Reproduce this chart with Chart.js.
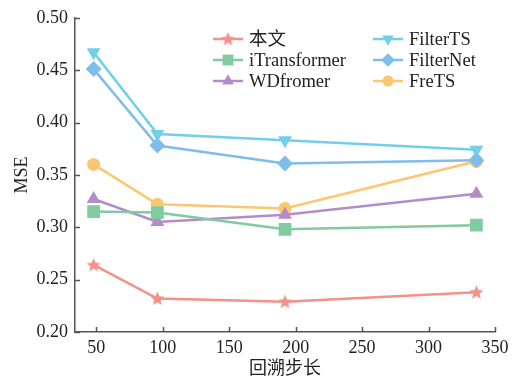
<!DOCTYPE html>
<html>
<head>
<meta charset="utf-8">
<script src="https://cdn.jsdelivr.net/npm/chart.js@4"></script>
<style>
  html, body { margin: 0; padding: 0; background: #fff; }
  #wrap { width: 523px; height: 381px; position: relative; }
</style>
</head>
<body>
<div id="wrap"><canvas id="chart"></canvas></div>
<script>
// look-back lengths and MSE per model
var lookback = [48, 96, 192, 336];
var ours = [0.264, 0.232, 0.229, 0.238];
var itransformer = [0.315, 0.314, 0.298, 0.302];
var wdfromer = [0.327, 0.305, 0.312, 0.332];
var filterts = [0.467, 0.389, 0.383, 0.374];
var filternet = [0.451, 0.378, 0.361, 0.364];
var frets = [0.360, 0.322, 0.318, 0.363];

var xTicks = [50, 100, 150, 200, 250, 300, 350];
var yTicks = [0.20, 0.25, 0.30, 0.35, 0.40, 0.45, 0.50];

var serif = "'Liberation Serif', 'Noto Sans CJK SC', serif";
var axisColor = "#555";
var textColor = "#222";

function makeStar(color, size) {
  var c = document.createElement("canvas");
  c.width = size; c.height = size;
  var g = c.getContext("2d");
  g.fillStyle = color;
  g.beginPath();
  for (var i = 0; i < 10; i++) {
    var r = i % 2 ? size * 0.22 : size / 2;
    var a = -Math.PI / 2 + i * Math.PI / 5;
    var px = size / 2 + r * Math.cos(a);
    var py = size / 2 + 0.5 + r * Math.sin(a);
    if (i === 0) g.moveTo(px, py); else g.lineTo(px, py);
  }
  g.closePath();
  g.fill();
  return c;
}

function pts(ys) {
  return lookback.map(function(x, i) { return {x: x, y: ys[i]}; });
}

function series(label, ys, color, style, radius, rotation) {
  return {
    label: label,
    data: pts(ys),
    borderColor: color,
    backgroundColor: color,
    pointBackgroundColor: color,
    pointBorderColor: color,
    borderWidth: 2.5,
    pointStyle: style,
    pointRadius: radius,
    pointHoverRadius: radius,
    pointRotation: rotation || 0,
    pointBorderWidth: 0,
    tension: 0
  };
}

var datasets = [
  series("本文", ours, "#F4918A", makeStar("#F4918A", 15), 7),
  series("iTransformer", itransformer, "#80CBA0", "rect", 9),
  series("WDfromer", wdfromer, "#B48CC7", "triangle", 8),
  series("FilterTS", filterts, "#72CFE9", "triangle", 8, 180),
  series("FilterNet", filternet, "#7FBDEA", "rectRot", 8),
  series("FreTS", frets, "#FDC670", "circle", 6.5)
];

// legend in two columns inside the plot, like the original figure
var legendPlugin = {
  id: "colLegend",
  afterDraw: function(chart) {
    var ctx = chart.ctx;
    var cols = [213, 373];
    var rows = [39, 60, 81];
    chart.data.datasets.forEach(function(ds, i) {
      var x0 = cols[Math.floor(i / 3)];
      var y = rows[i % 3];
      ctx.save();
      ctx.strokeStyle = ds.borderColor;
      ctx.lineWidth = 2.5;
      ctx.beginPath();
      ctx.moveTo(x0, y);
      ctx.lineTo(x0 + 30, y);
      ctx.stroke();
      ctx.fillStyle = ds.backgroundColor;
      Chart.helpers.drawPoint(ctx, {
        pointStyle: ds.pointStyle,
        radius: ds.pointRadius * 0.85,
        rotation: ds.pointRotation,
        borderWidth: 0
      }, x0 + 15, y);
      ctx.fillStyle = textColor;
      ctx.font = "18.5px " + serif;
      ctx.textBaseline = "middle";
      ctx.textAlign = "left";
      ctx.fillText(ds.label, x0 + 36, y + 1);
      ctx.restore();
    });
  }
};

// inward tick marks
var tickPlugin = {
  id: "inTicks",
  afterDraw: function(chart) {
    var ctx = chart.ctx;
    var xs = chart.scales.x, ys = chart.scales.y;
    var area = chart.chartArea;
    ctx.save();
    ctx.strokeStyle = axisColor;
    ctx.lineWidth = 1.5;
    ctx.beginPath();
    xTicks.forEach(function(v) {
      var px = Math.round(xs.getPixelForValue(v)) + 0.5;
      ctx.moveTo(px, area.bottom);
      ctx.lineTo(px, area.bottom - 5);
    });
    yTicks.forEach(function(v) {
      var py = Math.round(ys.getPixelForValue(v)) + 0.5;
      ctx.moveTo(area.left, py);
      ctx.lineTo(area.left + 5, py);
    });
    ctx.stroke();
    ctx.restore();
  }
};

new Chart(document.getElementById("chart").getContext("2d"), {
  type: "line",
  data: { datasets: datasets },
  options: {
    responsive: true,
    maintainAspectRatio: false,
    animation: false,
    layout: { padding: { left: 0, right: 28, top: 17, bottom: 0 } },
    plugins: {
      legend: { display: false },
      tooltip: { enabled: false }
    },
    scales: {
      x: {
        type: "linear",
        min: 34,
        max: 350,
        afterBuildTicks: function(scale) {
          scale.ticks = xTicks.map(function(v) { return {value: v}; });
        },
        afterFit: function(scale) { scale.height = 49; },
        grid: { display: false, drawTicks: false },
        border: { display: true, color: axisColor, width: 1.5 },
        ticks: {
          font: { family: serif, size: 18 },
          color: textColor,
          padding: 5,
          maxRotation: 0
        },
        title: {
          display: true,
          text: "回溯步长",
          font: { family: serif, size: 18 },
          color: textColor,
          padding: { top: 0, bottom: 1 }
        }
      },
      y: {
        min: 0.2,
        max: 0.5,
        afterBuildTicks: function(scale) {
          scale.ticks = yTicks.map(function(v) { return {value: v}; });
        },
        afterFit: function(scale) { scale.width = 75; },
        grid: { display: false, drawTicks: false },
        border: { display: true, color: axisColor, width: 1.5 },
        ticks: {
          font: { family: serif, size: 18 },
          color: textColor,
          padding: 7,
          callback: function(v) { return Number(v).toFixed(2); }
        },
        title: {
          display: true,
          text: "MSE",
          font: { family: serif, size: 18 },
          color: textColor,
          padding: { top: 11, bottom: 0 }
        }
      }
    }
  },
  plugins: [legendPlugin, tickPlugin]
});
</script>
</body>
</html>
